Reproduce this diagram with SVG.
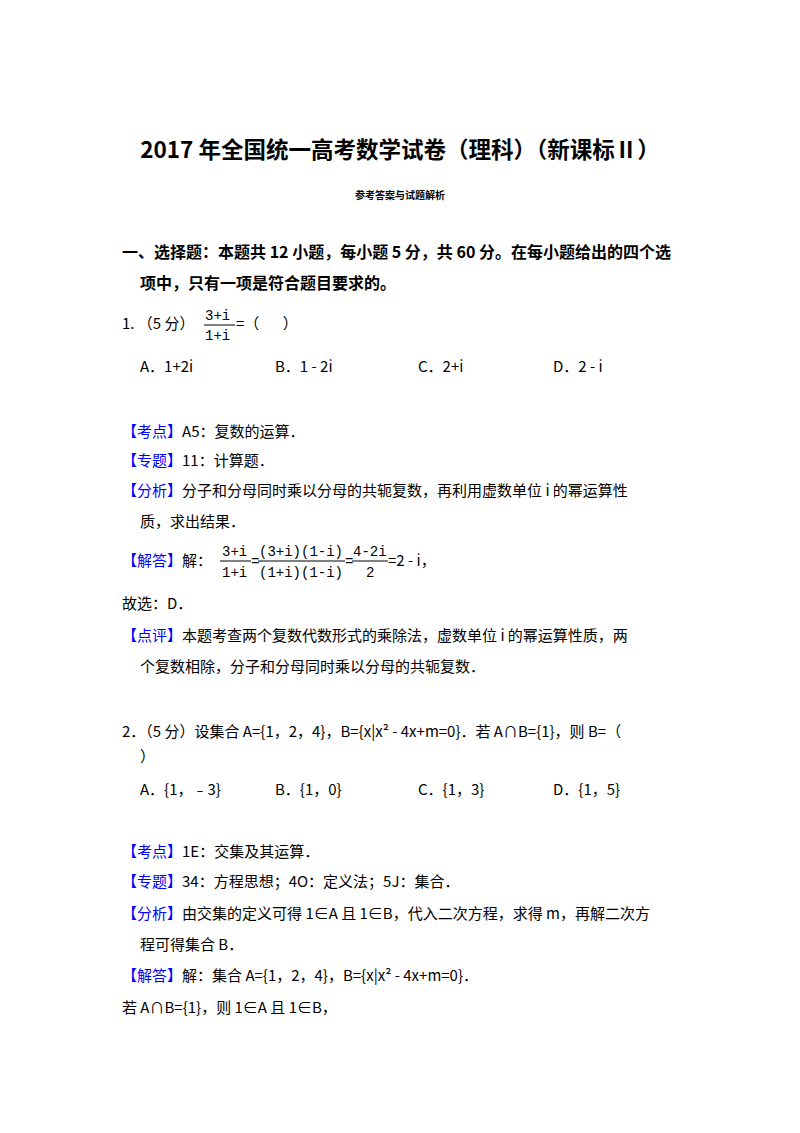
<svg xmlns="http://www.w3.org/2000/svg" width="800" height="1133" viewBox="0 0 800 1133">
<style>
text{font-family:"Noto Sans CJK SC","Liberation Sans",sans-serif;fill:#000;font-size:15px}
.b{font-weight:bold}
.t{font-size:22.5px;font-weight:bold}
.s{font-size:10px;font-weight:bold}
.h{font-size:16px;font-weight:bold}
.k{fill:#0000ff}
.m{font-family:"Liberation Mono",monospace;font-size:14px}
.f{stroke:#000;stroke-width:1}
</style>
<rect width="800" height="1133" fill="#fff"/>
<text x="400" y="158" text-anchor="middle" class="t">2017 年全国统一高考数学试卷（理科）（新课标Ⅱ）</text>
<text x="400" y="199" text-anchor="middle" class="s">参考答案与试题解析</text>
<text x="122" y="258" class="h">一、选择题：本题共 12 小题，每小题 5 分，共 60 分。在每小题给出的四个选</text>
<text x="140" y="289" class="h">项中，只有一项是符合题目要求的。</text>
<g id="q1">
<text x="122" y="329">1.  （5 分）</text>
<text x="205" y="320" class="m">3+i</text><line x1="204" y1="325" x2="235" y2="325" class="f"/><text x="205" y="340" class="m">1+i</text>
<text x="236" y="329" xml:space="preserve">=（       ）</text>
<text x="140" y="372">A．1+2i</text><text x="275" y="372">B．1 - 2i</text><text x="418" y="372">C．2+i</text><text x="553" y="372">D．2 - i</text>
<text x="122" y="437"><tspan class="k">【考点】</tspan>A5：复数的运算．</text>
<text x="122" y="466"><tspan class="k">【专题】</tspan>11：计算题．</text>
<text x="122" y="496"><tspan class="k">【分析】</tspan>分子和分母同时乘以分母的共轭复数，再利用虚数单位 i 的幂运算性</text>
<text x="140" y="527">质，求出结果．</text>
<text x="122" y="566"><tspan class="k">【解答】</tspan>解：</text>
<text x="222" y="556" class="m">3+i</text><line x1="220" y1="561" x2="251" y2="561" class="f"/><text x="222" y="577" class="m">1+i</text>
<text x="251" y="566" class="m">=</text>
<text x="259" y="556" class="m">(3+i)(1-i)</text><line x1="258" y1="561" x2="345" y2="561" class="f"/><text x="259" y="577" class="m">(1+i)(1-i)</text>
<text x="345" y="566" class="m">=</text>
<text x="353" y="556" class="m">4-2i</text><line x1="352" y1="561" x2="388" y2="561" class="f"/><text x="366" y="577" class="m">2</text>
<text x="388" y="566">=2 - i，</text>
<text x="122" y="609">故选：D．</text>
<text x="122" y="641"><tspan class="k">【点评】</tspan>本题考查两个复数代数形式的乘除法，虚数单位 i 的幂运算性质，两</text>
<text x="140" y="672">个复数相除，分子和分母同时乘以分母的共轭复数．</text>
</g>
<g id="q2">
<text x="122" y="737">2．（5 分）设集合 A={1，2，4}，B={x|x² - 4x+m=0}．若 A∩B={1}，则 B=（</text>
<text x="140" y="762">）</text>
<text x="140" y="795">A．{1，﹣3}</text><text x="275" y="795">B．{1，0}</text><text x="418" y="795">C．{1，3}</text><text x="553" y="795">D．{1，5}</text>
<text x="122" y="857"><tspan class="k">【考点】</tspan>1E：交集及其运算．</text>
<text x="122" y="887"><tspan class="k">【专题】</tspan>34：方程思想；4O：定义法；5J：集合．</text>
<text x="122" y="919"><tspan class="k">【分析】</tspan>由交集的定义可得 1∈A 且 1∈B，代入二次方程，求得 m，再解二次方</text>
<text x="140" y="950">程可得集合 B．</text>
<text x="122" y="981"><tspan class="k">【解答】</tspan>解：集合 A={1，2，4}，B={x|x² - 4x+m=0}．</text>
<text x="122" y="1013">若 A∩B={1}，则 1∈A 且 1∈B，</text>
</g>
</svg>
